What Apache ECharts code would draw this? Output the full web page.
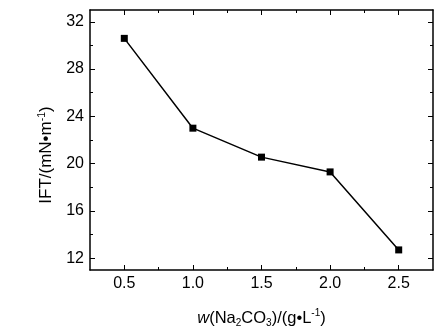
<!DOCTYPE html>
<html>
<head>
<meta charset="utf-8">
<script src="https://cdn.jsdelivr.net/npm/echarts@6/dist/echarts.min.js"></script>
<style>html,body{margin:0;padding:0;background:#fff;}#c{width:447px;height:336px;}</style>
</head>
<body>
<div id="c"></div>
<script>
const xValues = [0.5, 1.0, 1.5, 2.0, 2.5];
const yValues = [30.6, 23.0, 20.55, 19.3, 12.7];
const xMajorTicks = [0.5, 1.0, 1.5, 2.0, 2.5];
const xMinorTicks = [0.75, 1.25, 1.75, 2.25];
const yMajorTicks = [12, 16, 20, 24, 28, 32];
const yMinorTicks = [14, 18, 22, 26, 30];

const FONT = '"Liberation Sans", Arial, sans-serif';
const lineStyle = {color: '#000', width: 1.5};

function xAx(pos, ticks, len, labels, showLine) {
  return {
    type: 'value', position: pos, min: 0.25, max: 2.75, interval: 0.25,
    axisLine: {show: showLine, onZero: false, lineStyle: lineStyle},
    axisTick: {show: true, inside: true, length: len, customValues: ticks, lineStyle: {color: '#000', width: 1}},
    axisLabel: labels ? {show: true, customValues: ticks, margin: 6, color: '#000', fontSize: 16, fontFamily: FONT,
      formatter: v => v.toFixed(1)} : {show: false},
    splitLine: {show: false}
  };
}
function yAx(pos, ticks, len, labels, showLine) {
  return {
    type: 'value', position: pos, min: 11, max: 33, interval: 1,
    axisLine: {show: showLine, onZero: false, lineStyle: lineStyle},
    axisTick: {show: true, inside: true, length: len, customValues: ticks, lineStyle: {color: '#000', width: 1}},
    axisLabel: labels ? {show: true, customValues: ticks, margin: 6, color: '#000', fontSize: 16, fontFamily: FONT} : {show: false},
    splitLine: {show: false}
  };
}

const xMain = xAx('bottom', xMajorTicks, 5, true, true);
xMain.name = '{i|w}{n|(Na}{sub|2}{n|CO}{sub|3}{n|)/(g•L}{sup|-1}{n|)}';
xMain.nameLocation = 'middle';
xMain.nameGap = 38;
xMain.nameTextStyle = {
  color: '#000', fontSize: 16.5, fontFamily: FONT,
  rich: {
    i: {fontSize: 16.5, fontStyle: 'italic', fontFamily: FONT, color: '#000', lineHeight: 20},
    n: {fontSize: 16.5, fontFamily: FONT, color: '#000', lineHeight: 20},
    sub: {fontSize: 10, fontFamily: FONT, color: '#000', lineHeight: 20, verticalAlign: 'bottom', padding: [10, 0, 0, 0]},
    sup: {fontSize: 10, fontFamily: FONT, color: '#000', lineHeight: 20, verticalAlign: 'top', padding: [0, 0, 8, 0]}
  }
};

const yMain = yAx('left', yMajorTicks, 5, true, true);
yMain.name = '{n|IFT/(mN•m}{sup|-1}{n|)}';
yMain.nameLocation = 'middle';
yMain.nameRotate = 90;
yMain.nameGap = 33;
yMain.nameTextStyle = {
  color: '#000', fontSize: 17, fontFamily: FONT,
  padding: [0, 30, 0, 0],
  rich: {
    n: {fontSize: 17, fontFamily: FONT, color: '#000', lineHeight: 20},
    sup: {fontSize: 10.5, fontFamily: FONT, color: '#000', lineHeight: 20, verticalAlign: 'top', padding: [0, 0, 8, 0]}
  }
};

const option = {
  animation: false,
  backgroundColor: '#fff',
  grid: {left: 90, right: 14, top: 10, bottom: 66, containLabel: false},
  xAxis: [
    xMain,
    xAx('bottom', xMinorTicks, 3, false, false),
    xAx('top', xMajorTicks, 5, false, true),
    xAx('top', xMinorTicks, 3, false, false)
  ],
  yAxis: [
    yMain,
    yAx('left', yMinorTicks, 3, false, false),
    yAx('right', yMajorTicks, 5, false, true),
    yAx('right', yMinorTicks, 3, false, false)
  ],
  series: [{
    type: 'line',
    xAxisIndex: 0, yAxisIndex: 0,
    data: xValues.map((x, i) => [x, yValues[i]]),
    symbol: 'rect', symbolSize: 7,
    itemStyle: {color: '#000'},
    lineStyle: {color: '#000', width: 1.5}
  }]
};
const chart = echarts.init(document.getElementById('c'), null, {renderer: 'canvas'});
chart.setOption(option);
</script>
</body>
</html>
